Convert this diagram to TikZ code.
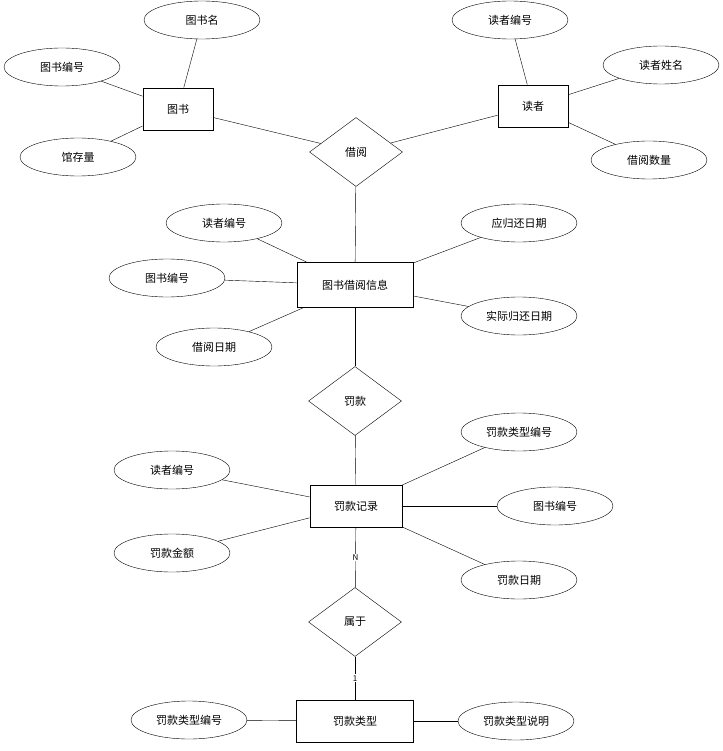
\documentclass[tikz,border=0pt]{standalone}
\usepackage{fontspec}
\setmainfont{Noto Sans CJK SC}
\usetikzlibrary{shapes.geometric}
\begin{document}
\begin{tikzpicture}[x=1pt,y=-1pt,font=\fontsize{11}{13}\selectfont,
  ent/.style={draw,thick,rectangle,minimum width=70pt,minimum height=42pt,inner sep=0pt,fill=white},
  att/.style={draw,ellipse,minimum width=116pt,minimum height=38pt,inner sep=0pt,fill=white},
  rel/.style={draw,diamond,minimum width=93pt,minimum height=69pt,inner sep=0pt,aspect=1.35,fill=white},
  ln/.style={draw}]
\useasboundingbox (0,0) rectangle (722,751);
\fill[white] (0,0) rectangle (722,751);
\node[ent] (ts) at (178,109) {图书};
\node[att] (tsm) at (202,20) {图书名};
\node[att] (tsbh) at (62,67) {图书编号};
\node[att] (gcl) at (78,157) {馆存量};
\node[ent] (dz) at (533,106) {读者};
\node[att] (dzbh) at (510,20) {读者编号};
\node[att] (dzxm) at (661,65) {读者姓名};
\node[att] (jysl) at (649,160) {借阅数量};
\node[rel] (jy) at (356,152) {借阅};
\node[ent,minimum width=116pt,minimum height=45pt] (xx) at (355,285) {图书借阅信息};
\node[att] (a1) at (224,223) {读者编号};
\node[att] (a2) at (167,278) {图书编号};
\node[att] (a3) at (214,347) {借阅日期};
\node[att] (a4) at (519,223) {应归还日期};
\node[att] (a5) at (519,316) {实际归还日期};
\node[rel] (fk) at (355,401) {罚款};
\node[ent,minimum width=92pt] (jl) at (356,506) {罚款记录};
\node[att] (b1) at (519,432) {罚款类型编号};
\node[att] (b2) at (172,470) {读者编号};
\node[att] (b3) at (555,506) {图书编号};
\node[att] (b4) at (172,553) {罚款金额};
\node[att] (b5) at (519,580) {罚款日期};
\node[rel] (sy) at (355,622) {属于};
\node[ent,minimum width=117pt] (lx) at (355,721) {罚款类型};
\node[att] (c1) at (189,720) {罚款类型编号};
\node[att] (c2) at (516,721) {罚款类型说明};
\begin{scope}[on background layer/.style={}]
\end{scope}
\foreach \a/\b in {ts/tsm,ts/tsbh,ts/gcl,dz/dzbh,dz/dzxm,dz/jysl,ts/jy,dz/jy,jy/xx,xx/a1,xx/a2,xx/a3,xx/a4,xx/a5,xx/fk,fk/jl,jl/b1,jl/b2,jl/b3,jl/b4,jl/b5,lx/c1,lx/c2}
  \draw (\a) -- (\b);
\draw (jl) -- node[fill=white,inner sep=1pt,font=\fontsize{8}{9}\selectfont]{N} (sy);
\draw (sy) -- node[fill=white,inner sep=1pt,font=\fontsize{8}{9}\selectfont]{1} (lx);
\end{tikzpicture}
\end{document}
